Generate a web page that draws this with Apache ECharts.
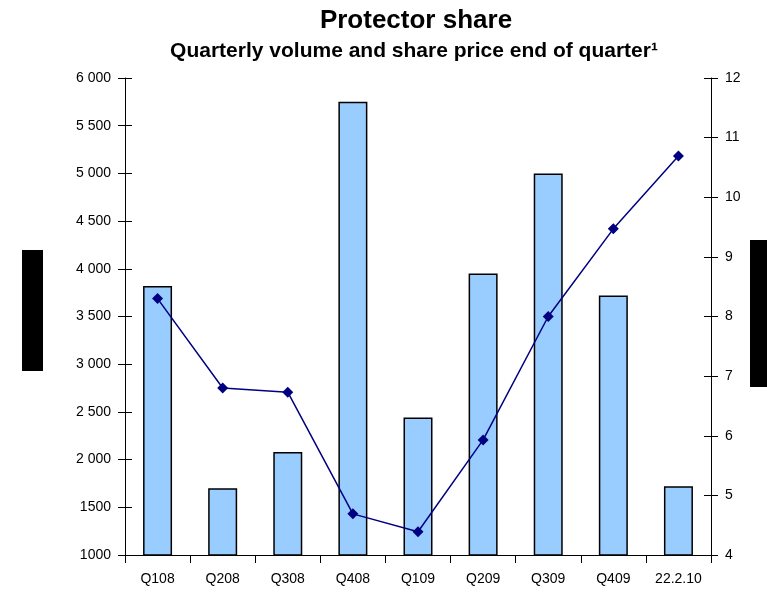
<!DOCTYPE html>
<html>
<head>
<meta charset="utf-8">
<script src="https://cdn.jsdelivr.net/npm/echarts@6/dist/echarts.min.js"></script>
<style>
  html, body { margin: 0; padding: 0; background: #fff; }
  #chart { width: 767px; height: 592px; }
</style>
</head>
<body>
<div id="chart"></div>
<script>
const quarters = ["Q108", "Q208", "Q308", "Q408", "Q109", "Q209", "Q309", "Q409", "22.2.10"];
const volume = [3820, 1700, 2080, 5750, 2440, 3950, 5000, 3720, 1720];
const price = [8.3, 6.8, 6.73, 4.69, 4.39, 5.93, 8.0, 9.47, 10.69];
const volumeTicks = { 1000: "1000", 1500: "1500", 2000: "2 000", 2500: "2 500", 3000: "3 000",
  3500: "3 500", 4000: "4 000", 4500: "4 500", 5000: "5 000", 5500: "5 500", 6000: "6 000" };

const font = "Liberation Sans, Arial, sans-serif";
const chart = echarts.init(document.getElementById("chart"));

// left/right value axes; copies 2 and 3 only draw the inner half of the crossing ticks
function valueAxis(pos, min, max, step, labels) {
  return {
    type: "value",
    position: pos,
    min: min,
    max: max,
    interval: step,
    splitLine: { show: false },
    axisLine: { show: labels, lineStyle: { color: "#000", width: 1 } },
    axisTick: { show: true, inside: !labels, length: 7, lineStyle: { color: "#000" } },
    axisLabel: {
      show: labels,
      color: "#000",
      fontFamily: font,
      fontSize: 14,
      margin: 14,
      formatter: function (v) {
        return pos == "left" ? volumeTicks[v] : String(v);
      },
    },
  };
}

chart.setOption({
  animation: false,
  title: [
    {
      text: "Protector share",
      left: 411,
      top: 3,
      textAlign: "center",
      textStyle: { fontFamily: font, fontSize: 26, fontWeight: "bold", color: "#000" },
    },
    {
      text: "Quarterly volume and share price end of quarter¹",
      left: 409,
      top: 36,
      textAlign: "center",
      textStyle: { fontFamily: font, fontSize: 21, fontWeight: "bold", color: "#000" },
    },
  ],
  grid: { left: 125, right: 56, top: 78, bottom: 37, containLabel: false },
  xAxis: {
    type: "category",
    data: quarters,
    boundaryGap: true,
    axisLine: { lineStyle: { color: "#000", width: 1 } },
    axisTick: { show: true, length: 8, lineStyle: { color: "#000" } },
    axisLabel: { color: "#000", fontFamily: font, fontSize: 14, margin: 17 },
  },
  yAxis: [
    valueAxis("left", 1000, 6000, 500, true),
    valueAxis("right", 4, 12, 1, true),
    valueAxis("left", 1000, 6000, 500, false),
    valueAxis("right", 4, 12, 1, false),
  ],
  series: [
    {
      name: "Volume",
      type: "bar",
      data: volume,
      yAxisIndex: 0,
      barWidth: 29,
      itemStyle: { color: "#99CCFF", borderColor: "#000", borderWidth: 1.5 },
    },
    {
      name: "Share price",
      type: "line",
      data: price,
      yAxisIndex: 1,
      symbol: "diamond",
      symbolSize: 11,
      lineStyle: { color: "#000080", width: 1.5 },
      itemStyle: { color: "#000080" },
    },
  ],
  graphic: [
    { type: "rect", shape: { x: 22, y: 250, width: 21, height: 121 }, style: { fill: "#000" } },
    { type: "rect", shape: { x: 750, y: 240, width: 17, height: 147 }, style: { fill: "#000" } },
  ],
});
</script>
</body>
</html>
